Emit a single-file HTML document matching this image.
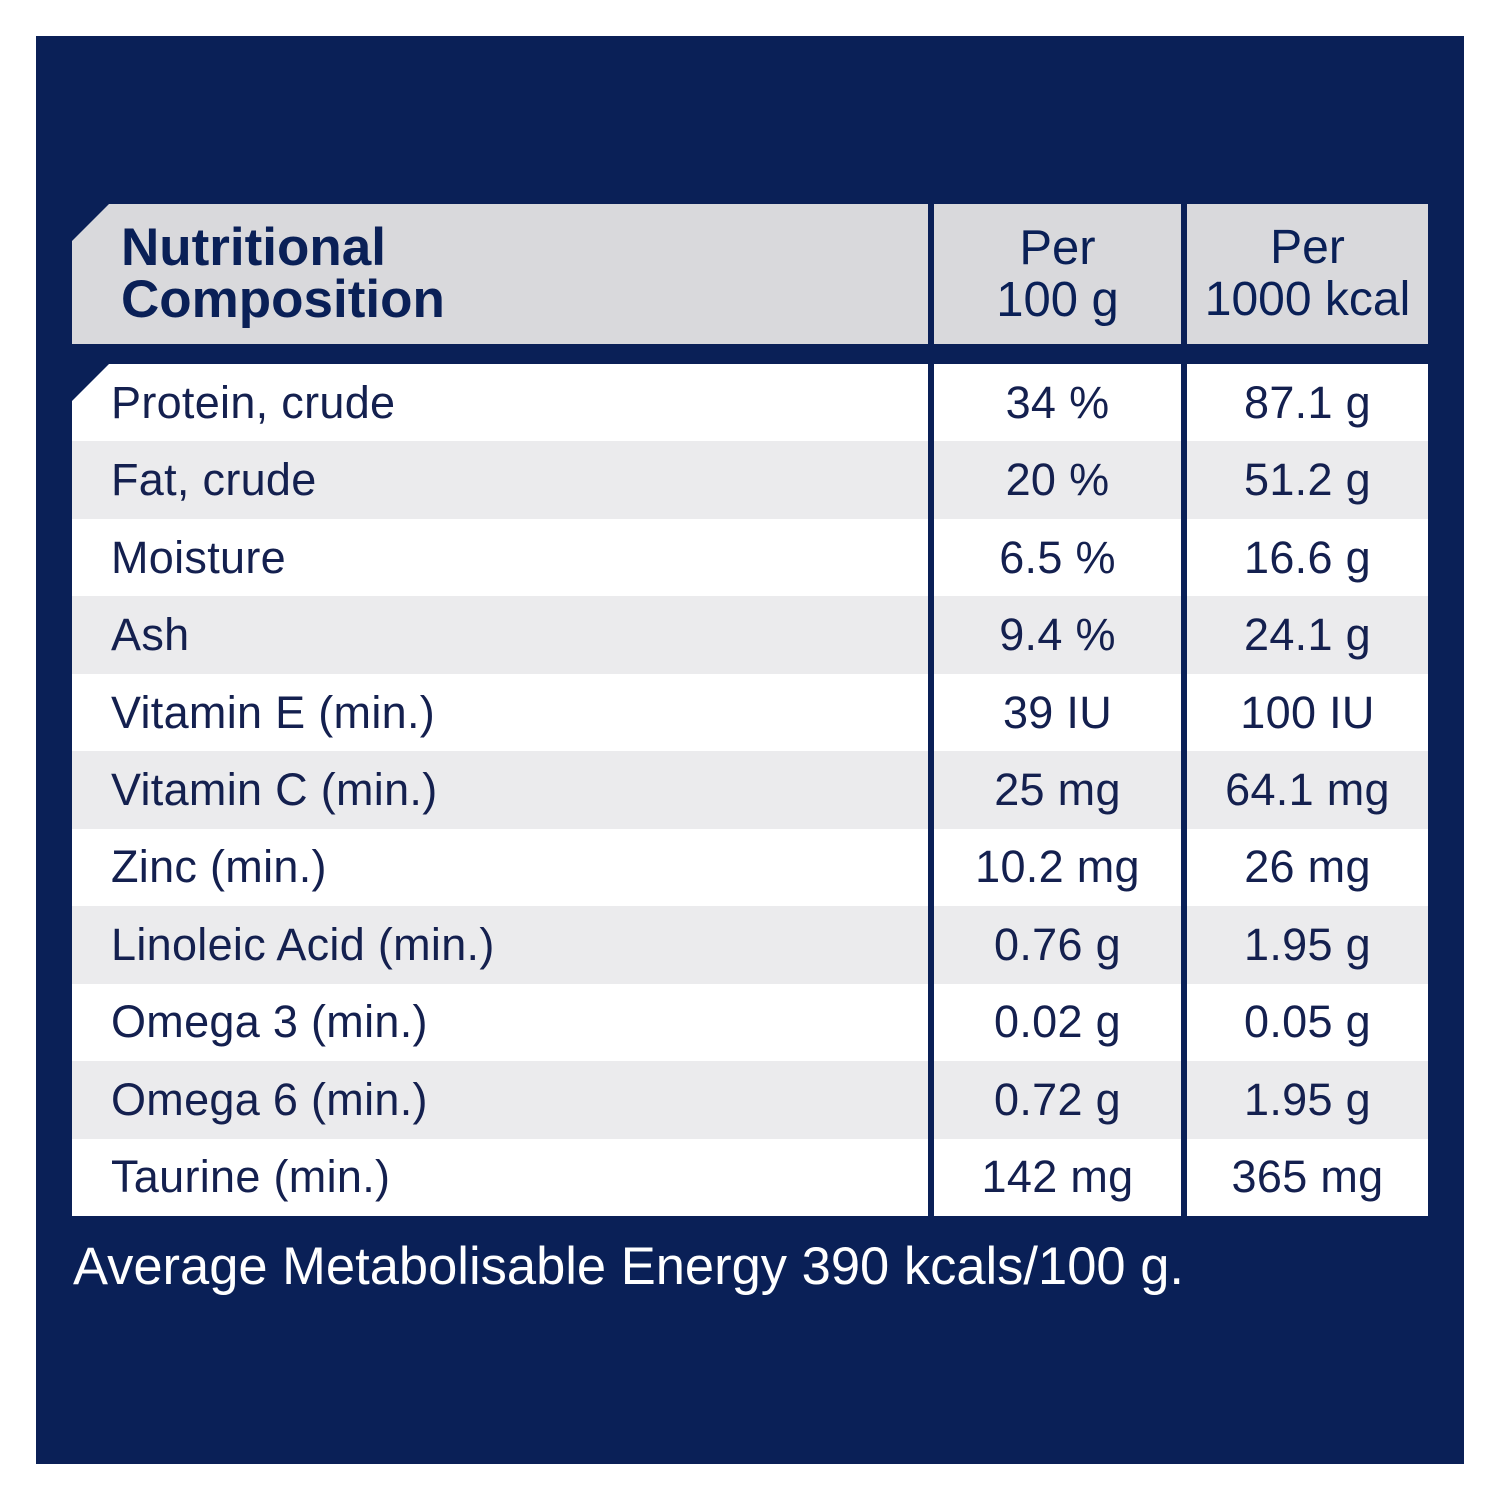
<!DOCTYPE html>
<html><head><meta charset="utf-8"><style>
*{margin:0;padding:0;box-sizing:border-box}
body{width:1500px;height:1500px;background:#fff;position:relative;font-family:"Liberation Sans",sans-serif;overflow:hidden}
.box{position:absolute;left:36px;top:36px;width:1428px;height:1428px;background:#0a2057}
.c{position:absolute;display:flex;align-items:center;color:#14204f;white-space:nowrap}
.hd{background:#d9d9dc;top:204px;height:140px}
.r{height:77.5px;font-size:45px;letter-spacing:0.3px}
.foot{position:absolute;left:73px;top:1236px;color:#fff;font-size:52.5px;white-space:nowrap}
</style></head><body>
<div class="box"></div>
<div class="c hd" style="left:72px;width:856px;clip-path:polygon(37px 0,100% 0,100% 100%,0 100%,0 37px);padding-left:49px;font-weight:bold;font-size:53px;line-height:52px;color:#0a2057">Nutritional<br>Composition</div>
<div class="c hd" style="left:934px;width:247px;justify-content:center;text-align:center;font-size:49px;line-height:52px;color:#0a2057">Per<br>100 g</div>
<div class="c hd" style="left:1187px;width:241px;justify-content:center;text-align:center;font-size:48px;line-height:52px;color:#0a2057">Per<br>1000 kcal</div>
<div id="rows"></div>
<script>
var d=[["Protein, crude","34 %","87.1 g"],["Fat, crude","20 %","51.2 g"],["Moisture","6.5 %","16.6 g"],["Ash","9.4 %","24.1 g"],["Vitamin E (min.)","39 IU","100 IU"],["Vitamin C (min.)","25 mg","64.1 mg"],["Zinc (min.)","10.2 mg","26 mg"],["Linoleic Acid (min.)","0.76 g","1.95 g"],["Omega 3 (min.)","0.02 g","0.05 g"],["Omega 6 (min.)","0.72 g","1.95 g"],["Taurine (min.)","142 mg","365 mg"]];
var h="";
d.forEach(function(r,i){var t=364+i*77.45,bg=i%2?"#ebebed":"#fff";
var cp=i==0?"clip-path:polygon(37px 0,100% 0,100% 100%,0 100%,0 37px);":"";
h+='<div class="c r" style="'+cp+'left:72px;width:856px;top:'+t+'px;background:'+bg+';padding-left:39px">'+r[0]+'</div>';
h+='<div class="c r" style="left:934px;width:247px;top:'+t+'px;background:'+bg+';justify-content:center">'+r[1]+'</div>';
h+='<div class="c r" style="left:1187px;width:241px;top:'+t+'px;background:'+bg+';justify-content:center">'+r[2]+'</div>';});
document.getElementById("rows").innerHTML=h;
</script>
<div class="foot">Average Metabolisable Energy 390 kcals/100 g.</div>
</body></html>
